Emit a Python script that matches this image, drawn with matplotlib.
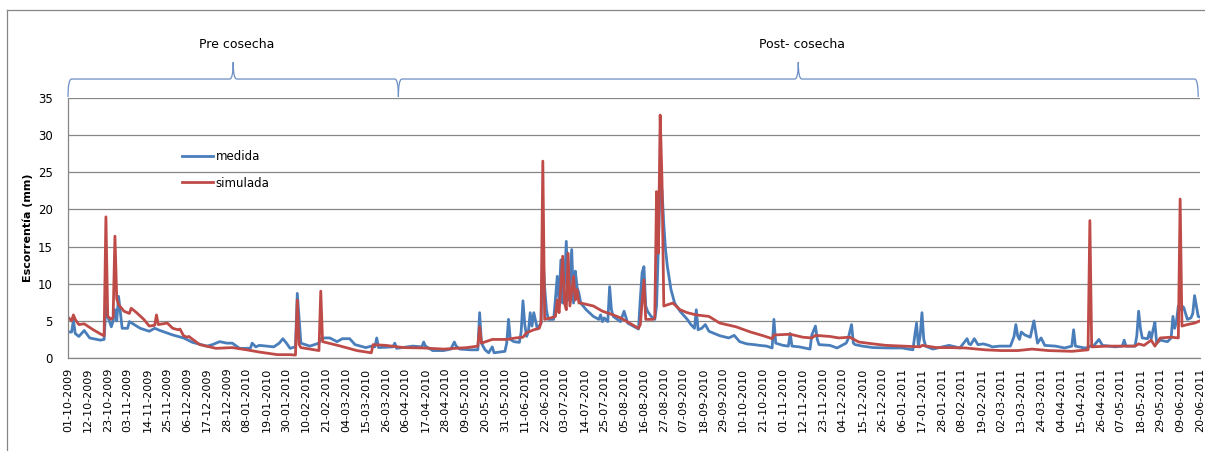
import numpy as np
import pandas as pd
import matplotlib
matplotlib.use("Agg")
import matplotlib.pyplot as plt
from matplotlib.path import Path
from matplotlib.patches import PathPatch
from matplotlib.lines import Line2D
import matplotlib.transforms as mtransforms

# ---------------------------------------------------------
# Escorrentia diaria medida vs simulada (01-10-2009 .. 20-06-2011)
# x = dias desde 01-10-2009, y = mm
# ---------------------------------------------------------
FECHA_INICIO = pd.Timestamp("2009-10-01")
N_DIAS = 627

dias_medida = [
    0, 2, 3, 4, 6, 9, 12, 18, 20, 21, 22, 24, 25, 26, 27, 28, 30, 33, 34, 40,
    45, 48, 51, 58, 64, 69, 77, 80, 84, 88, 91, 95, 101, 102, 104, 106, 114, 117, 119, 121,
    123, 126, 127, 129, 134, 139, 140, 142, 145, 149, 152, 156, 159, 165, 168, 170, 171, 172, 180, 181,
    182, 191, 196, 197, 198, 202, 208, 212, 214, 215, 217, 223, 227, 228, 229, 231, 233, 235, 236, 242,
    243, 244, 245, 247, 250, 251, 252, 253, 254, 255, 256, 257, 258, 259, 260, 262, 263, 264, 265, 266,
    269, 270, 271, 272, 273, 274, 275, 276, 277, 278, 279, 280, 281, 282, 283, 284, 287, 291, 294, 295,
    296, 297, 299, 300, 301, 302, 306, 308, 310, 313, 316, 317, 318, 319, 320, 321, 323, 325, 326, 327,
    328, 329, 330, 331, 332, 334, 336, 339, 343, 345, 347, 348, 349, 351, 353, 355, 361, 366, 369, 372,
    376, 380, 383, 387, 390, 391, 392, 396, 399, 400, 401, 405, 411, 412, 414, 415, 416, 422, 426, 431,
    432, 434, 435, 436, 440, 446, 455, 462, 468, 469, 470, 471, 472, 473, 474, 475, 479, 488, 494, 498,
    499, 500, 502, 504, 507, 510, 512, 516, 522, 524, 525, 526, 527, 528, 530, 533, 535, 537, 539, 541,
    547, 552, 556, 557, 558, 563, 565, 566, 568, 571, 573, 580, 584, 585, 586, 591, 592, 593, 594, 595,
    598, 599, 600, 601, 602, 603, 605, 609, 611, 612, 613, 614, 615, 616, 617, 618, 620, 622, 623, 624,
    625, 626, 627,
]
medida = [
    3.5, 3.5, 5.1, 3.3, 2.9, 3.7, 2.7, 2.4, 2.5, 7.0, 5.6, 4.2, 5.0, 6.5, 5.0, 8.3, 4.0, 4.0, 4.9, 4.0,
    3.6, 4.0, 3.7, 3.1, 2.7, 2.1, 1.6, 1.8, 2.2, 2.0, 2.0, 1.3, 1.3, 2.0, 1.5, 1.7, 1.5, 2.0, 2.6, 2.0,
    1.3, 1.5, 8.7, 2.0, 1.6, 2.0, 2.6, 2.7, 2.7, 2.2, 2.6, 2.6, 1.8, 1.4, 1.6, 1.5, 2.7, 1.4, 1.5, 2.0,
    1.3, 1.6, 1.5, 2.15, 1.6, 1.0, 1.0, 1.2, 2.15, 1.6, 1.2, 1.1, 1.1, 6.1, 2.0, 1.1, 0.7, 1.5, 0.7, 0.9,
    2.0, 5.2, 2.5, 2.2, 2.1, 3.5, 7.7, 4.5, 2.9, 3.5, 6.1, 4.3, 6.1, 5.0, 3.9, 4.7, 14.0, 9.5, 6.5, 5.2,
    5.2, 8.0, 11.0, 7.5, 13.2, 7.4, 10.0, 15.7, 7.8, 10.5, 14.6, 7.4, 11.7, 9.5, 8.7, 7.4, 6.5, 5.6, 5.2, 5.8,
    4.9, 5.4, 4.9, 9.6, 6.5, 5.6, 4.9, 6.3, 4.7, 4.3, 3.9, 8.0, 11.5, 12.3, 7.0, 6.3, 5.6, 5.2, 7.0, 15.0,
    24.0, 22.6, 18.0, 14.5, 12.3, 9.2, 7.4, 6.3, 5.2, 4.5, 4.0, 6.5, 3.8, 4.0, 4.5, 3.6, 3.0, 2.7, 3.05, 2.2,
    1.9, 1.8, 1.7, 1.6, 1.35, 5.2, 2.0, 1.7, 1.6, 3.3, 1.6, 1.5, 1.2, 3.1, 4.3, 2.5, 1.8, 1.7, 1.35, 2.0,
    2.5, 4.5, 2.0, 1.8, 1.6, 1.4, 1.35, 1.35, 1.1, 3.0, 4.7, 1.6, 3.0, 6.1, 2.5, 1.6, 1.2, 1.7, 1.35, 2.6,
    1.9, 1.8, 2.6, 1.8, 1.9, 1.7, 1.5, 1.6, 1.6, 2.9, 4.5, 3.0, 2.5, 3.5, 3.1, 2.8, 5.0, 2.0, 2.7, 1.7,
    1.6, 1.35, 1.6, 3.8, 1.6, 1.35, 1.4, 1.6, 1.6, 2.5, 1.7, 1.5, 1.6, 2.4, 1.6, 1.6, 3.0, 6.3, 4.0, 2.7,
    2.6, 3.5, 2.6, 3.8, 4.8, 2.0, 2.4, 2.2, 2.7, 5.6, 4.0, 5.0, 7.0, 6.5, 7.0, 6.8, 5.2, 5.4, 6.0, 8.4,
    7.0, 5.6, 5.5,
]

dias_simulada = [
    0, 2, 3, 4, 6, 9, 14, 19, 20, 21, 22, 24, 25, 26, 27, 28, 31, 34, 35, 38,
    42, 45, 48, 49, 50, 55, 58, 61, 62, 64, 66, 67, 68, 73, 82, 91, 99, 106, 116, 123,
    126, 127, 128, 129, 139, 140, 141, 151, 160, 168, 169, 176, 186, 197, 208, 221, 227, 228, 229, 235,
    243, 248, 252, 254, 258, 261, 262, 263, 264, 269, 270, 271, 272, 274, 275, 276, 277, 278, 280, 281,
    282, 283, 284, 291, 296, 302, 306, 311, 316, 317, 319, 320, 324, 325, 326, 327, 328, 329, 330, 335,
    339, 343, 348, 355, 361, 370, 378, 385, 390, 391, 400, 407, 412, 414, 422, 427, 433, 438, 446, 453,
    462, 472, 473, 481, 488, 497, 508, 517, 526, 534, 543, 556, 565, 566, 567, 576, 583, 591, 593, 596,
    600, 602, 605, 611, 615, 616, 617, 620, 624, 627,
]
simulada = [
    5.5, 5.0, 5.8, 5.2, 4.5, 4.6, 3.8, 3.1, 3.0, 19.0, 5.6, 5.2, 5.5, 16.4, 8.0, 7.2, 6.3, 6.0, 6.7, 6.1,
    5.2, 4.3, 4.4, 5.8, 4.5, 4.7, 4.0, 3.8, 3.9, 3.0, 2.8, 2.9, 2.7, 1.8, 1.3, 1.4, 1.1, 0.8, 0.45, 0.45,
    0.4, 7.8, 1.8, 1.4, 1.0, 9.0, 2.2, 1.6, 1.0, 0.7, 1.8, 1.7, 1.4, 1.35, 1.2, 1.4, 1.6, 4.2, 2.0, 2.5,
    2.5, 2.7, 2.8, 3.4, 3.8, 4.0, 4.7, 26.5, 5.2, 5.5, 5.6, 7.8, 6.1, 13.7, 7.4, 6.5, 14.1, 7.0, 11.0, 7.8,
    9.2, 7.4, 7.4, 7.0, 6.3, 5.8, 5.4, 4.7, 4.0, 4.5, 10.5, 5.2, 5.2, 5.4, 22.4, 14.1, 32.7, 24.0, 7.0, 7.4,
    6.5, 6.1, 5.8, 5.6, 4.7, 4.2, 3.5, 3.0, 2.6, 3.1, 3.2, 2.8, 2.7, 3.05, 2.9, 2.7, 2.8, 2.15, 1.9, 1.7,
    1.6, 1.5, 1.7, 1.4, 1.4, 1.35, 1.1, 1.0, 1.0, 1.2, 1.0, 0.9, 1.1, 18.5, 1.5, 1.6, 1.6, 1.6, 1.9, 1.7,
    2.4, 1.6, 2.7, 2.8, 2.7, 21.4, 4.3, 4.5, 4.7, 5.0,
]

# periodos (dias desde el inicio) para las llaves superiores
periodos = ["Pre cosecha", "Post- cosecha"]
periodo_ini = [0, 183]
periodo_fin = [183, 626]

AZUL = "#4a7ebb"
ROJO = "#be4b48"
GRIS = "#868686"
LLAVE = "#6b8fc4"

fig = plt.figure(figsize=(12.05, 4.51), dpi=100)
ax = fig.add_axes([68 / 1205, 1 - 358 / 451, 1132 / 1205, 260 / 451])

ax.plot(dias_medida, medida, color=AZUL, lw=2.0, label="medida", solid_joinstyle="round")
ax.plot(dias_simulada, simulada, color=ROJO, lw=2.0, label="simulada", solid_joinstyle="round")

ax.set_xlim(0, N_DIAS)
ax.set_ylim(0, 35)
ax.set_yticks(np.arange(0, 36, 5))
ax.grid(axis="y", color=GRIS, lw=0.9)
ax.set_axisbelow(True)

ticks = np.arange(0, N_DIAS + 1, 11)
ax.set_xticks(ticks)
ax.set_xticklabels([(FECHA_INICIO + pd.Timedelta(days=int(d))).strftime("%d-%m-%Y") for d in ticks],
                   rotation=90, fontsize=8)
ax.tick_params(axis="x", length=0, pad=7)
ax.tick_params(axis="y", length=0, pad=11, labelsize=8.5)

for s in ["top", "right"]:
    ax.spines[s].set_visible(False)
for s in ["left", "bottom"]:
    ax.spines[s].set_color(GRIS)
    ax.spines[s].set_linewidth(0.9)

ax.set_ylabel("Escorrentía (mm)", fontsize=8, fontweight="bold")
ax.yaxis.set_label_coords(-0.031, 0.5)

ax.legend(loc="upper left", bbox_to_anchor=(0.101, 0.80), frameon=False, fontsize=8.5,
          handlelength=2.6, handletextpad=0.2, labelspacing=1.15, borderpad=0, borderaxespad=0)

# llaves sobre el grafico
trans = mtransforms.blended_transform_factory(ax.transData, ax.transAxes)
yb, yl, yt = 1.004, 1.073, 1.138
w = 2.0
for nombre, x0, x1 in zip(periodos, periodo_ini, periodo_fin):
    xm = (x0 + x1) / 2
    verts = [(x0, yb), (x0, yl), (x0 + w, yl),
             (xm - w, yl), (xm, yl), (xm, yt),
             (xm, yl), (xm + w, yl),
             (x1 - w, yl), (x1, yl), (x1, yb)]
    codes = [Path.MOVETO, Path.CURVE3, Path.CURVE3,
             Path.LINETO, Path.CURVE3, Path.CURVE3,
             Path.CURVE3, Path.CURVE3,
             Path.LINETO, Path.CURVE3, Path.CURVE3]
    ax.add_patch(PathPatch(Path(verts, codes), transform=trans, fill=False,
                           edgecolor=LLAVE, lw=0.9, clip_on=False))
    ax.text(xm + 2, 1.205, nombre, transform=trans, ha="center", va="center", fontsize=9)

# marco exterior del grafico
fig.add_artist(Line2D([7 / 1205, 7 / 1205], [0, 1 - 10 / 451], color=GRIS, lw=0.9))
fig.add_artist(Line2D([7 / 1205, 1], [1 - 10 / 451, 1 - 10 / 451], color=GRIS, lw=0.9))

fig.savefig("out.png", dpi=100)
